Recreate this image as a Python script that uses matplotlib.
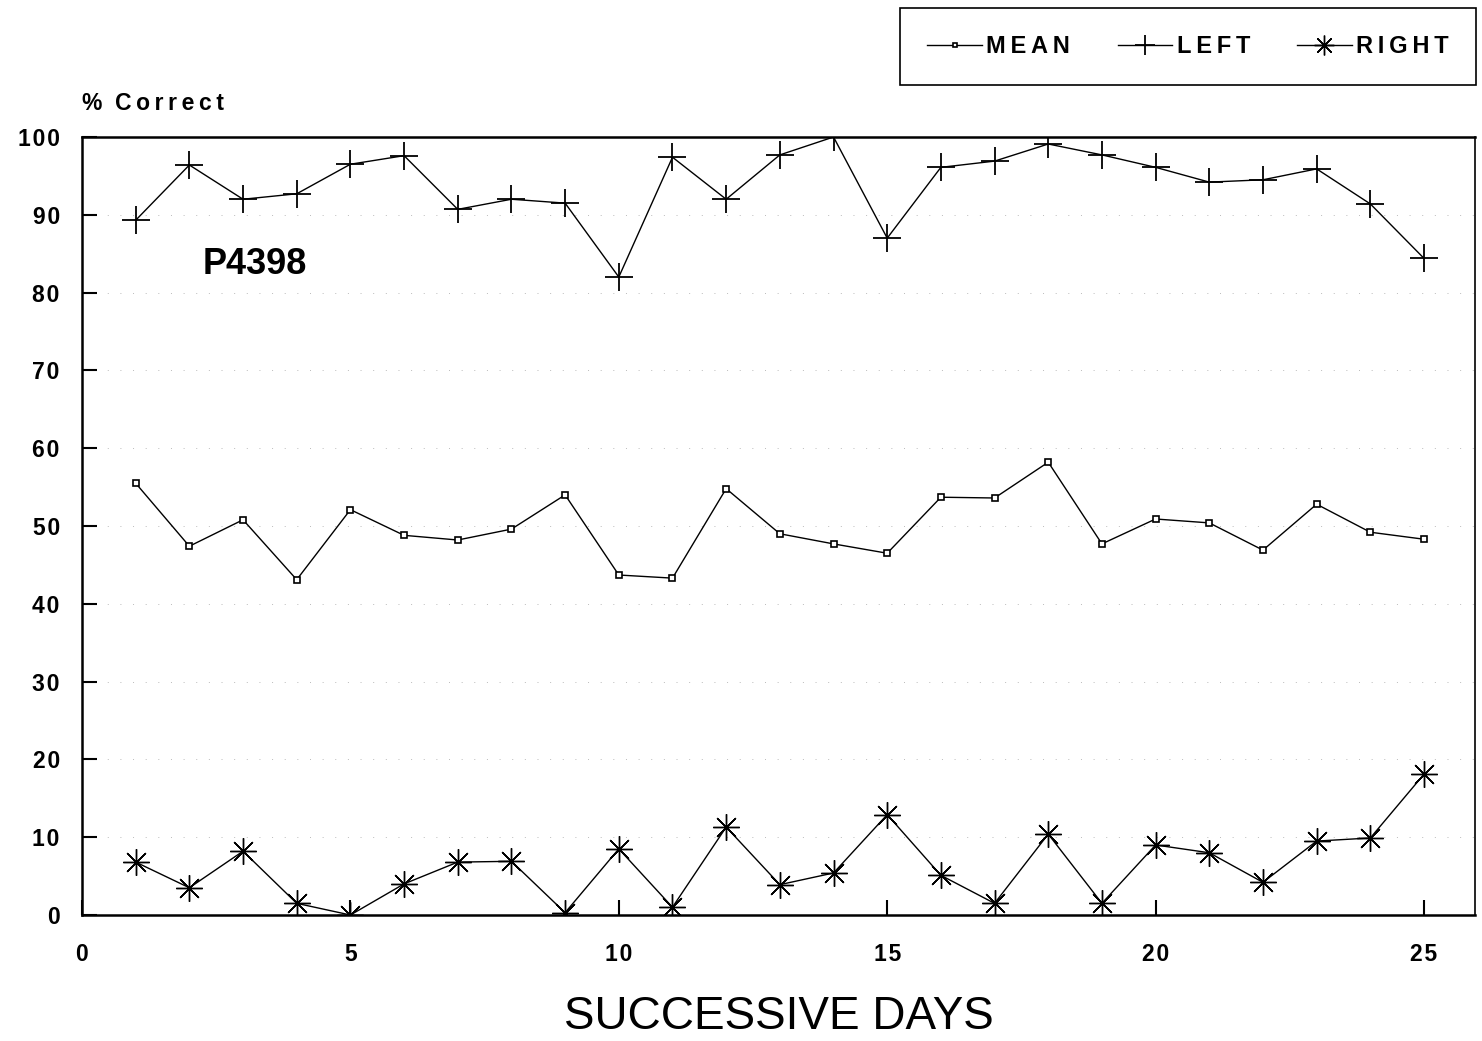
import numpy as np
import matplotlib
matplotlib.use("Agg")
import matplotlib.pyplot as plt

# values (% correct per day)
days = list(range(1, 26))
mean_pct = [55.5, 47.4, 50.8, 43.1, 52.1, 48.8, 48.2, 49.6, 54.0, 43.7,
            43.3, 54.8, 49.0, 47.7, 46.5, 53.7, 53.6, 58.2, 47.7, 50.9,
            50.4, 46.9, 52.8, 49.2, 48.3]
left_pct = [89.3, 96.4, 92.0, 92.7, 96.5, 97.6, 90.7, 92.0, 91.5, 82.0,
            97.4, 92.0, 97.7, 100.0, 87.0, 96.1, 96.9, 99.1, 97.7, 96.1,
            94.2, 94.5, 95.9, 91.4, 84.4]
right_pct = [6.8, 3.5, 8.2, 1.5, 0.0, 4.0, 6.8, 6.9, 0.3, 8.5,
             1.0, 11.3, 3.9, 5.4, 12.9, 5.1, 1.5, 10.4, 1.5, 9.0,
             8.0, 4.2, 9.5, 9.9, 18.1]
xticks = [0, 5, 10, 15, 20, 25]
yticks = [0, 10, 20, 30, 40, 50, 60, 70, 80, 90, 100]


def spaced(s, gap="\u2009"):
    # old plotter fonts were letter-spaced
    return gap.join(s)


W, H = 1482, 1041
fig = plt.figure(figsize=(W / 100, H / 100), dpi=100)
ax = fig.add_axes([82 / W, 1 - 915 / H, (1475 - 82) / W, (915 - 137) / H])

small_font = dict(family=["Liberation Sans", "DejaVu Sans"], weight="bold", size=16.5)

ax.plot(days, mean_pct, color="black", lw=1.0, marker="s", markersize=4.5,
        markerfacecolor="white", markeredgecolor="black", markeredgewidth=1.2,
        label=spaced("MEAN"))
ax.plot(days, left_pct, color="black", lw=1.0, marker="+", markersize=20,
        markeredgewidth=1.3, label=spaced("LEFT"))
ax.plot(days, right_pct, color="black", lw=1.0, marker=(8, 2, 0), markersize=19,
        markeredgewidth=1.0, label=spaced("RIGHT"))

ax.set_xlim(0, 25.95)
ax.set_ylim(0, 100)
ax.set_xticks(xticks)
ax.set_yticks(yticks)
ax.set_xticklabels([spaced(str(t), "\u200a") for t in xticks], **small_font)
ax.set_yticklabels([spaced(str(t), "\u200a") for t in yticks], **small_font)
ax.tick_params(axis="both", direction="in", length=11, width=1.5, colors="black")
ax.tick_params(axis="x", pad=20)
ax.tick_params(axis="y", pad=16)

# sparse dotted gridlines as in the scan
for y in yticks[1:-1]:
    ax.axhline(y, color="#bbbbbb", lw=0.7, ls=(0, (1, 12)), zorder=0)

for side in ["left", "bottom", "top"]:
    ax.spines[side].set_linewidth(1.8)
ax.spines["right"].set_linewidth(1.2)

ax.text(0, 1.043, "%  " + spaced("Correct"), transform=ax.transAxes,
        ha="left", va="center", fontdict=small_font)
ax.text(2.25, 83.6, "P4398", ha="left", va="center", family="Liberation Sans",
        weight="bold", size=26)
ax.set_xlabel("SUCCESSIVE DAYS", family="Liberation Sans", size=33, labelpad=21)

leg = fig.legend(loc="upper right", bbox_to_anchor=(1476 / W, 1 - 8 / H), ncol=3,
                 fancybox=False, edgecolor="black", framealpha=1, borderpad=1.15,
                 borderaxespad=0, handlelength=2.3, columnspacing=2.0,
                 handletextpad=0.2,
                 prop={"family": ["Liberation Sans", "DejaVu Sans"],
                       "weight": "bold", "size": 17},
                 markerscale=0.75)
leg.get_frame().set_linewidth(1.2)

plt.savefig("out.png", dpi=100)
plt.close()
